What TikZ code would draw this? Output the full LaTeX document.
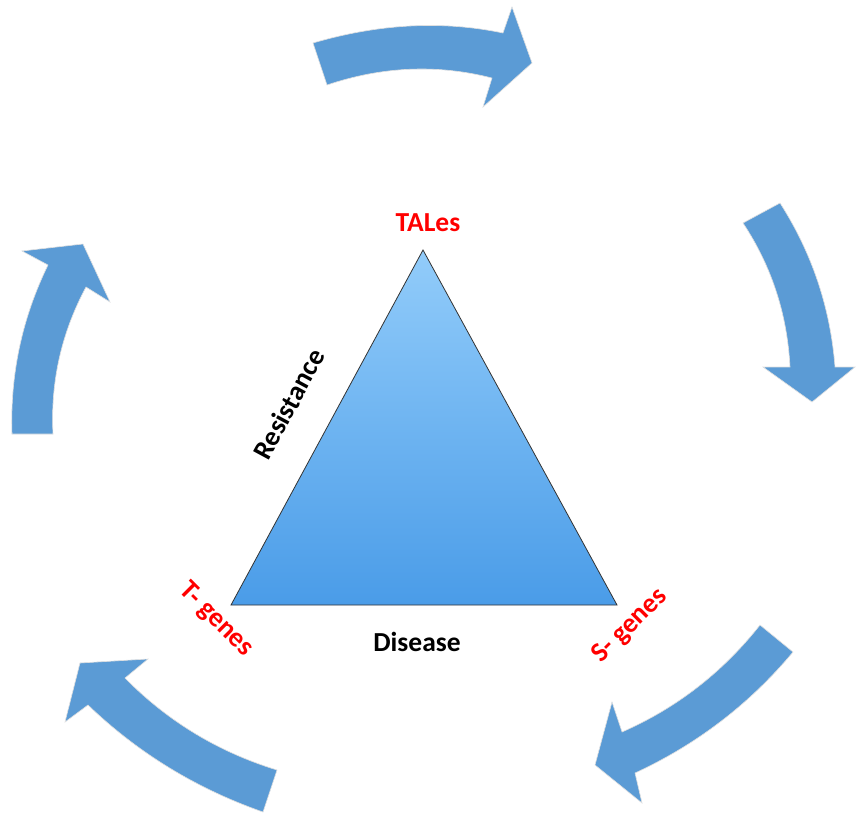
\documentclass[tikz,border=0pt]{standalone}
\usepackage{fontspec}
\setmainfont{Carlito}
\usetikzlibrary{calc}
\definecolor{arrowblue}{RGB}{91,155,213}
\definecolor{tritop}{RGB}{146,204,250}
\definecolor{tribot}{RGB}{74,156,232}
\definecolor{lblred}{RGB}{255,0,0}
% quadratic curve helper: from current point p to b via control q
\newcommand{\qcurve}[3]{.. controls ($(#1)!0.6667!(#2)$) and ($(#3)!0.6667!(#2)$) .. (#3)}
\begin{document}
\begin{tikzpicture}[x=1pt,y=-1pt,
  arrowshape/.style={fill=arrowblue, draw=black!12, line width=0.6pt, line join=miter},
  redlbl/.style={text=lblred, font=\fontsize{27.5}{31}\selectfont\bfseries, inner sep=0pt},
  blklbl/.style={text=black, font=\fontsize{27.5}{31}\selectfont\bfseries, inner sep=0pt}]
\useasboundingbox (0,0) rectangle (856,814);
\fill[white] (0,0) rectangle (856,814);

% triangle
\coordinate (A) at (423,250);
\coordinate (B) at (231,605);
\coordinate (C) at (617,605);
\draw[top color=tritop, bottom color=tribot, draw=black!80, line width=0.8pt, line join=miter] (A) -- (B) -- (C) -- cycle;

% labels
\node[redlbl] (tales) at (428,223) {TALes};
\node[blklbl, rotate=61.6] (resist) at (289,404) {Resistance};
\node[blklbl] (disease) at (417,642) {Disease};
\node[redlbl, rotate=-45] (tgenes) at (216,620) {T- genes};
\node[redlbl, rotate=45] (sgenes) at (630,626) {S- genes};

% arrow key points
% top
\coordinate (t1) at (313,43);  \coordinate (tq1) at (412,14);  \coordinate (t2) at (503,33);
\coordinate (t3) at (492,78);  \coordinate (tq2) at (410,57);  \coordinate (t4) at (327,85);
% right
\coordinate (r1) at (780,203); \coordinate (rq1) at (828,278); \coordinate (r2) at (835,367);
\coordinate (r3) at (790,367); \coordinate (rq2) at (786,288); \coordinate (r4) at (743,223);
% bottom right
\coordinate (s1) at (793,652); \coordinate (sq1) at (728,730); \coordinate (s2) at (635,773);
\coordinate (s3) at (622,732); \coordinate (sq2) at (704,696); \coordinate (s4) at (760,625);
% bottom left
\coordinate (b1) at (263,812); \coordinate (bq1) at (163,777); \coordinate (b2) at (88,705);
\coordinate (b3) at (125,678); \coordinate (bq2) at (189,743); \coordinate (b4) at (277,770);
% left
\coordinate (l1) at (12,434);  \coordinate (lq1) at (9,345);   \coordinate (l2) at (48,265);
\coordinate (l3) at (86,287);  \coordinate (lq2) at (49,356);  \coordinate (l4) at (53,434);

% top arrow
\path[arrowshape] (t1) \qcurve{t1}{tq1}{t2} -- (512,7) -- (532,63) -- (483,107) -- (t3)
  \qcurve{t3}{tq2}{t4} -- cycle;
% right arrow
\path[arrowshape] (r1) \qcurve{r1}{rq1}{r2} -- (855,367) -- (812,402) -- (763,367) -- (r3)
  \qcurve{r3}{rq2}{r4} -- cycle;
% bottom-right arrow
\path[arrowshape] (s1) \qcurve{s1}{sq1}{s2} -- (642,803) -- (595,765) -- (612,702) -- (s3)
  \qcurve{s3}{sq2}{s4} -- cycle;
% bottom-left arrow
\path[arrowshape] (b1) \qcurve{b1}{bq1}{b2} -- (65,722) -- (80,663) -- (148,659) -- (b3)
  \qcurve{b3}{bq2}{b4} -- cycle;
% left arrow
\path[arrowshape] (l1) \qcurve{l1}{lq1}{l2} -- (22,251) -- (83,244) -- (110,302) -- (l3)
  \qcurve{l3}{lq2}{l4} -- cycle;
\end{tikzpicture}
\end{document}
